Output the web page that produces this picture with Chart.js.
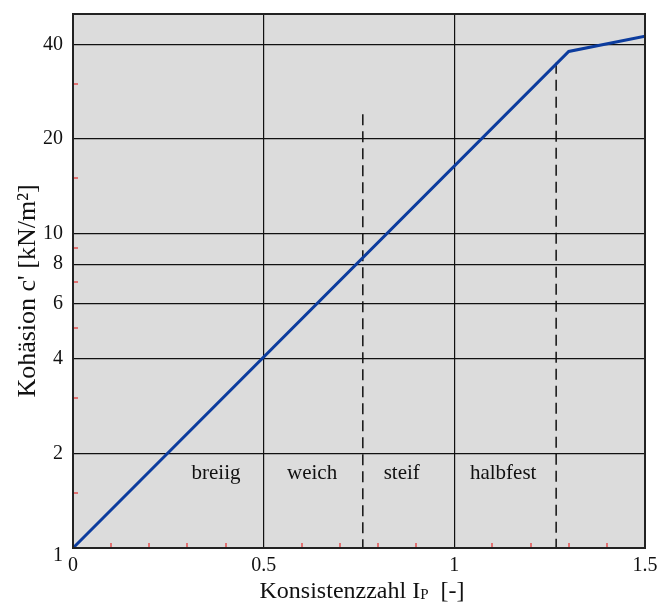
<!DOCTYPE html>
<html>
<head>
<meta charset="utf-8">
<script src="https://cdn.jsdelivr.net/npm/chart.js@4/dist/chart.umd.min.js"></script>
<style>
  html, body { margin: 0; padding: 0; background: #ffffff; }
  #wrap { width: 657px; height: 605px; }
</style>
</head>
<body>
<div id="wrap"><canvas id="c" width="657" height="605"></canvas></div>
<script>
// ---- data ----
const curveX = [0, 1.3, 1.5];
const curveY = [1, 38, 42.5];
const dash1X = [0.76, 0.76];
const dash1Y = [24, 1];
const dash2X = [1.267, 1.267];
const dash2Y = [35, 1];
const zoneLabels = ['breiig', 'weich', 'steif', 'halbfest'];
const zoneX = [0.375, 0.627, 0.862, 1.128];
const zoneY = [1.72, 1.72, 1.72, 1.72];
const xTickValues = [0, 0.5, 1, 1.5];
const xTickLabels = ['0', '0.5', '1', '1.5'];
const xMinorTicks = [0.1, 0.2, 0.3, 0.4, 0.6, 0.7, 0.8, 0.9, 1.1, 1.2, 1.3, 1.4];
const yTickValues = [1, 2, 4, 6, 8, 10, 20, 40];
const yTickLabels = ['1', '2', '4', '6', '8', '10', '20', '40'];
const yMinorTicks = [1.5, 3, 5, 7, 9, 15, 30];
const xTitleMain = 'Konsistenzzahl I';
const xTitleSub = 'P';
const xTitleEnd = '  [-]';
const yTitle = "Kohäsion c' [kN/m²]";

const SERIF = '"Liberation Serif", "Times New Roman", serif';

function pts(xs, ys) { return xs.map((x, i) => ({ x: x, y: ys[i] })); }

const decor = {
  id: 'decor',
  beforeDraw(chart) {
    const a = chart.chartArea, ctx = chart.ctx;
    ctx.save();
    ctx.fillStyle = '#ffffff';
    ctx.fillRect(0, 0, chart.width, chart.height);
    ctx.fillStyle = '#dcdcdc';
    ctx.fillRect(a.left, a.top, a.right - a.left, a.bottom - a.top);
    ctx.restore();
  },
  beforeDatasetsDraw(chart) {
    const a = chart.chartArea, ctx = chart.ctx;
    const xs = chart.scales.x, ys = chart.scales.y;
    ctx.save();
    ctx.strokeStyle = '#e45050';
    ctx.lineWidth = 1.5;
    xMinorTicks.forEach(v => {
      const px = Math.round(xs.getPixelForValue(v));
      ctx.beginPath(); ctx.moveTo(px, a.bottom); ctx.lineTo(px, a.bottom - 5); ctx.stroke();
    });
    yMinorTicks.forEach(v => {
      const py = Math.round(ys.getPixelForValue(v));
      ctx.beginPath(); ctx.moveTo(a.left, py); ctx.lineTo(a.left + 5, py); ctx.stroke();
    });
    // zone labels
    ctx.fillStyle = '#111';
    ctx.font = '21px ' + SERIF;
    ctx.textAlign = 'center';
    ctx.textBaseline = 'middle';
    zoneLabels.forEach((t, i) => {
      ctx.fillText(t, xs.getPixelForValue(zoneX[i]), ys.getPixelForValue(zoneY[i]));
    });
    ctx.restore();
  },
  afterDraw(chart) {
    const a = chart.chartArea, ctx = chart.ctx;
    ctx.save();
    ctx.strokeStyle = '#222';
    ctx.lineWidth = 2;
    ctx.strokeRect(a.left, a.top, a.right - a.left, a.bottom - a.top);
    // x title
    ctx.fillStyle = '#111';
    ctx.textBaseline = 'alphabetic';
    ctx.textAlign = 'left';
    const fMain = '24px ' + SERIF, fSub = '15px ' + SERIF;
    ctx.font = fMain;
    const w1 = ctx.measureText(xTitleMain).width;
    const w3 = ctx.measureText(xTitleEnd).width;
    ctx.font = fSub;
    const w2 = ctx.measureText(xTitleSub).width;
    const total = w1 + w2 + w3;
    let x0 = 362 - total / 2;
    const base = 598;
    ctx.font = fMain; ctx.fillText(xTitleMain, x0, base);
    ctx.font = fSub; ctx.fillText(xTitleSub, x0 + w1, base + 1);
    ctx.font = fMain; ctx.fillText(xTitleEnd, x0 + w1 + w2, base);
    // y title
    ctx.translate(35, 291);
    ctx.rotate(-Math.PI / 2);
    ctx.font = '26px ' + SERIF;
    ctx.textAlign = 'center';
    ctx.fillText(yTitle, 0, 0);
    ctx.restore();
  }
};

function zeroPad(s) { s.paddingLeft = 0; s.paddingRight = 0; s.paddingTop = 0; s.paddingBottom = 0; }

new Chart(document.getElementById('c'), {
  type: 'scatter',
  data: {
    datasets: [
      { data: pts(curveX, curveY), showLine: true, borderColor: '#0c3c9e', borderWidth: 3,
        pointRadius: 0, fill: false, tension: 0 },
      { data: pts(dash1X, dash1Y), showLine: true, borderColor: '#111', borderWidth: 1.5,
        borderDash: [11, 6], pointRadius: 0, fill: false },
      { data: pts(dash2X, dash2Y), showLine: true, borderColor: '#111', borderWidth: 1.5,
        borderDash: [11, 6], pointRadius: 0, fill: false }
    ]
  },
  options: {
    responsive: false,
    animation: false,
    devicePixelRatio: 1,
    layout: { padding: { top: 14, right: 12, left: 0, bottom: 0 } },
    plugins: { legend: { display: false }, tooltip: { enabled: false } },
    scales: {
      x: {
        type: 'linear', min: 0, max: 1.5,
        afterBuildTicks(s) { s.ticks = xTickValues.map(v => ({ value: v })); },
        afterFit(s) { s.height = 57; zeroPad(s); },
        grid: {
          drawTicks: false,
          lineWidth: 1.2,
          color: ctx => (ctx.tick && (ctx.tick.value === 0.5 || ctx.tick.value === 1)) ? '#111' : 'rgba(0,0,0,0)'
        },
        border: { display: false },
        ticks: {
          autoSkip: false, maxRotation: 0, padding: 6, color: '#111',
          font: { family: SERIF, size: 20 },
          callback: (v) => { const i = xTickValues.indexOf(v); return i >= 0 ? xTickLabels[i] : ''; }
        }
      },
      y: {
        type: 'logarithmic', min: 1, max: 50,
        afterBuildTicks(s) { s.ticks = yTickValues.map(v => ({ value: v })); },
        afterFit(s) { s.width = 73; zeroPad(s); },
        grid: {
          drawTicks: false,
          lineWidth: 1.2,
          color: ctx => (ctx.tick && ctx.tick.value !== 1) ? '#111' : 'rgba(0,0,0,0)'
        },
        border: { display: false },
        ticks: {
          autoSkip: false, padding: 10, color: '#111',
          font: (ctx) => (ctx.tick && ctx.tick.value === 1)
            ? { family: SERIF, size: 20, lineHeight: 0.8 }
            : { family: SERIF, size: 20 },
          callback: (v) => {
            const i = yTickValues.indexOf(v);
            if (i < 0) return '';
            return v === 1 ? ['', yTickLabels[i]] : yTickLabels[i];
          }
        }
      }
    }
  },
  plugins: [decor]
});
</script>
</body>
</html>
